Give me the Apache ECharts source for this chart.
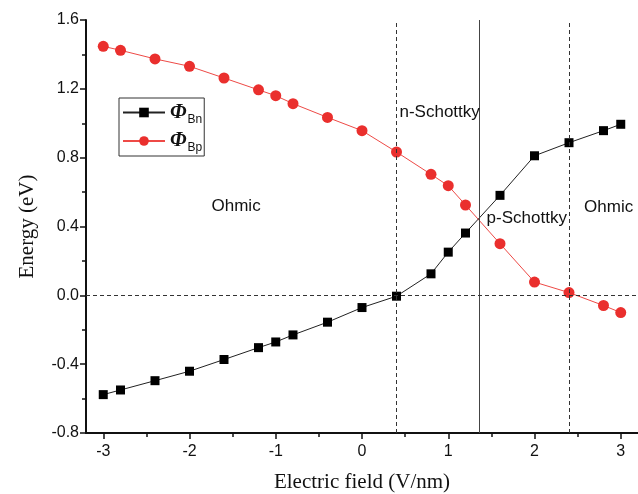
<!DOCTYPE html>
<html>
<head>
<meta charset="utf-8">
<script src="https://cdn.jsdelivr.net/npm/echarts@6/dist/echarts.min.js"></script>
<style>html,body{margin:0;padding:0;background:#fff}#c{width:638px;height:494px}</style>
</head>
<body>
<div id="c"></div>
<script>
// ---- data ----
const xValues = [-3, -2.8, -2.4, -2, -1.6, -1.2, -1.0, -0.8, -0.4, 0, 0.4, 0.8, 1.0, 1.2, 1.6, 2, 2.4, 2.8, 3];
const phiBn = [-0.577, -0.550, -0.496, -0.441, -0.373, -0.304, -0.271, -0.230, -0.156, -0.071, -0.005, 0.125, 0.251, 0.362, 0.581, 0.811, 0.887, 0.957, 0.994];
const phiBp = [1.447, 1.424, 1.374, 1.331, 1.263, 1.194, 1.160, 1.114, 1.034, 0.957, 0.833, 0.703, 0.637, 0.525, 0.300, 0.077, 0.016, -0.059, -0.100];
const seriesNames = ['Bn', 'Bp'];
const xTickLabels = [-3, -2, -1, 0, 1, 2, 3];
const xMinorTicks = [-2.5, -1.5, -0.5, 0.5, 1.5, 2.5];
const dashedBoundaries = [0.4, 2.4];
const solidBoundary = [1.36];
const zeroLine = [0];
const regionLabels = ['Ohmic', 'n-Schottky', 'p-Schottky', 'Ohmic'];
const regionLabelX = [-1.46, 0.9, 1.91, 2.86];
const regionLabelY = [0.515, 1.065, 0.45, 0.51];

const chart = echarts.init(document.getElementById('c'), null, {renderer: 'canvas'});
const pairs = ys => xValues.map((x, i) => [x, ys[i]]);

const axisNameStyle = {fontFamily: 'Liberation Serif', fontSize: 21, color: '#111'};
const tickFont = {fontFamily: 'Liberation Sans', fontSize: 16, color: '#111'};

const option = {
  animation: false,
  backgroundColor: '#fff',
  grid: {left: 86, right: 0, top: 20, bottom: 61, outerBoundsMode: 'none', containLabel: false},
  legend: {
    left: 119, top: 98, orient: 'vertical',
    borderColor: '#333', borderWidth: 1,
    padding: [4, 2, 2, 3], itemWidth: 42, itemHeight: 12, itemGap: 5,
    data: seriesNames,
    formatter: n => '{phi|Φ}{sub|' + n + '}',
    textStyle: {
      rich: {
        phi: {fontFamily: 'Liberation Serif', fontStyle: 'italic', fontWeight: 'bold', fontSize: 21, color: '#111'},
        sub: {fontFamily: 'Liberation Sans', fontSize: 12, color: '#111', padding: [14, 0, 0, 1]}
      }
    }
  },
  xAxis: [{
    type: 'value', min: -3.2, max: 3.2,
    name: 'Electric field (V/nm)', nameLocation: 'middle', nameGap: 39, nameTextStyle: axisNameStyle,
    axisLine: {show: true, onZero: false, lineStyle: {color: '#111', width: 2}},
    axisTick: {show: true, inside: false, length: 6, lineStyle: {color: '#111', width: 1.5}, customValues: xTickLabels},
    axisLabel: {customValues: xTickLabels, margin: 11, ...tickFont},
    splitLine: {show: false}
  }, {
    type: 'value', min: -3.2, max: 3.2, position: 'bottom',
    axisLine: {show: false, onZero: false},
    axisTick: {show: true, length: 4, lineStyle: {color: '#111', width: 1.5}, customValues: xMinorTicks},
    axisLabel: {show: false},
    splitLine: {show: false}
  }],
  yAxis: {
    type: 'value', min: -0.8, max: 1.6, interval: 0.4,
    name: 'Energy (eV)', nameLocation: 'middle', nameGap: 48, nameRotate: 90, nameTextStyle: axisNameStyle,
    axisLine: {show: true, onZero: false, lineStyle: {color: '#111', width: 2}},
    axisTick: {show: true, length: 6, lineStyle: {color: '#111', width: 1.5}},
    minorTick: {show: true, splitNumber: 2, length: 4, lineStyle: {color: '#111', width: 1.5}},
    axisLabel: {margin: 7, formatter: v => v.toFixed(1), ...tickFont},
    splitLine: {show: false}
  },
  series: [{
    name: seriesNames[0], type: 'line', xAxisIndex: 0, data: pairs(phiBn),
    symbol: 'rect', symbolSize: 9, itemStyle: {color: '#000'},
    lineStyle: {color: '#222', width: 1}, z: 3,
    markLine: {
      silent: true, symbol: 'none', label: {show: false},
      data: [
        ...dashedBoundaries.map(v => ({xAxis: v, lineStyle: {type: [4, 3], color: '#333', width: 1}})),
        ...solidBoundary.map(v => ({xAxis: v, lineStyle: {type: 'solid', color: '#444', width: 1}})),
        ...zeroLine.map(v => ({yAxis: v, lineStyle: {type: [4, 3], color: '#333', width: 1}}))
      ]
    },
    markPoint: {
      silent: true, symbol: 'circle', symbolSize: 0,
      data: regionLabels.map((t, i) => ({coord: [regionLabelX[i], regionLabelY[i]], value: t})),
      label: {show: true, position: 'inside', formatter: p => p.value, fontFamily: 'Liberation Sans', fontSize: 17, color: '#111'}
    }
  }, {
    name: seriesNames[1], type: 'line', xAxisIndex: 0, data: pairs(phiBp),
    symbol: 'circle', symbolSize: 11, itemStyle: {color: '#ea2f2d'},
    lineStyle: {color: '#ee4a46', width: 1}, z: 2
  }]
};
chart.setOption(option);
</script>
</body>
</html>
